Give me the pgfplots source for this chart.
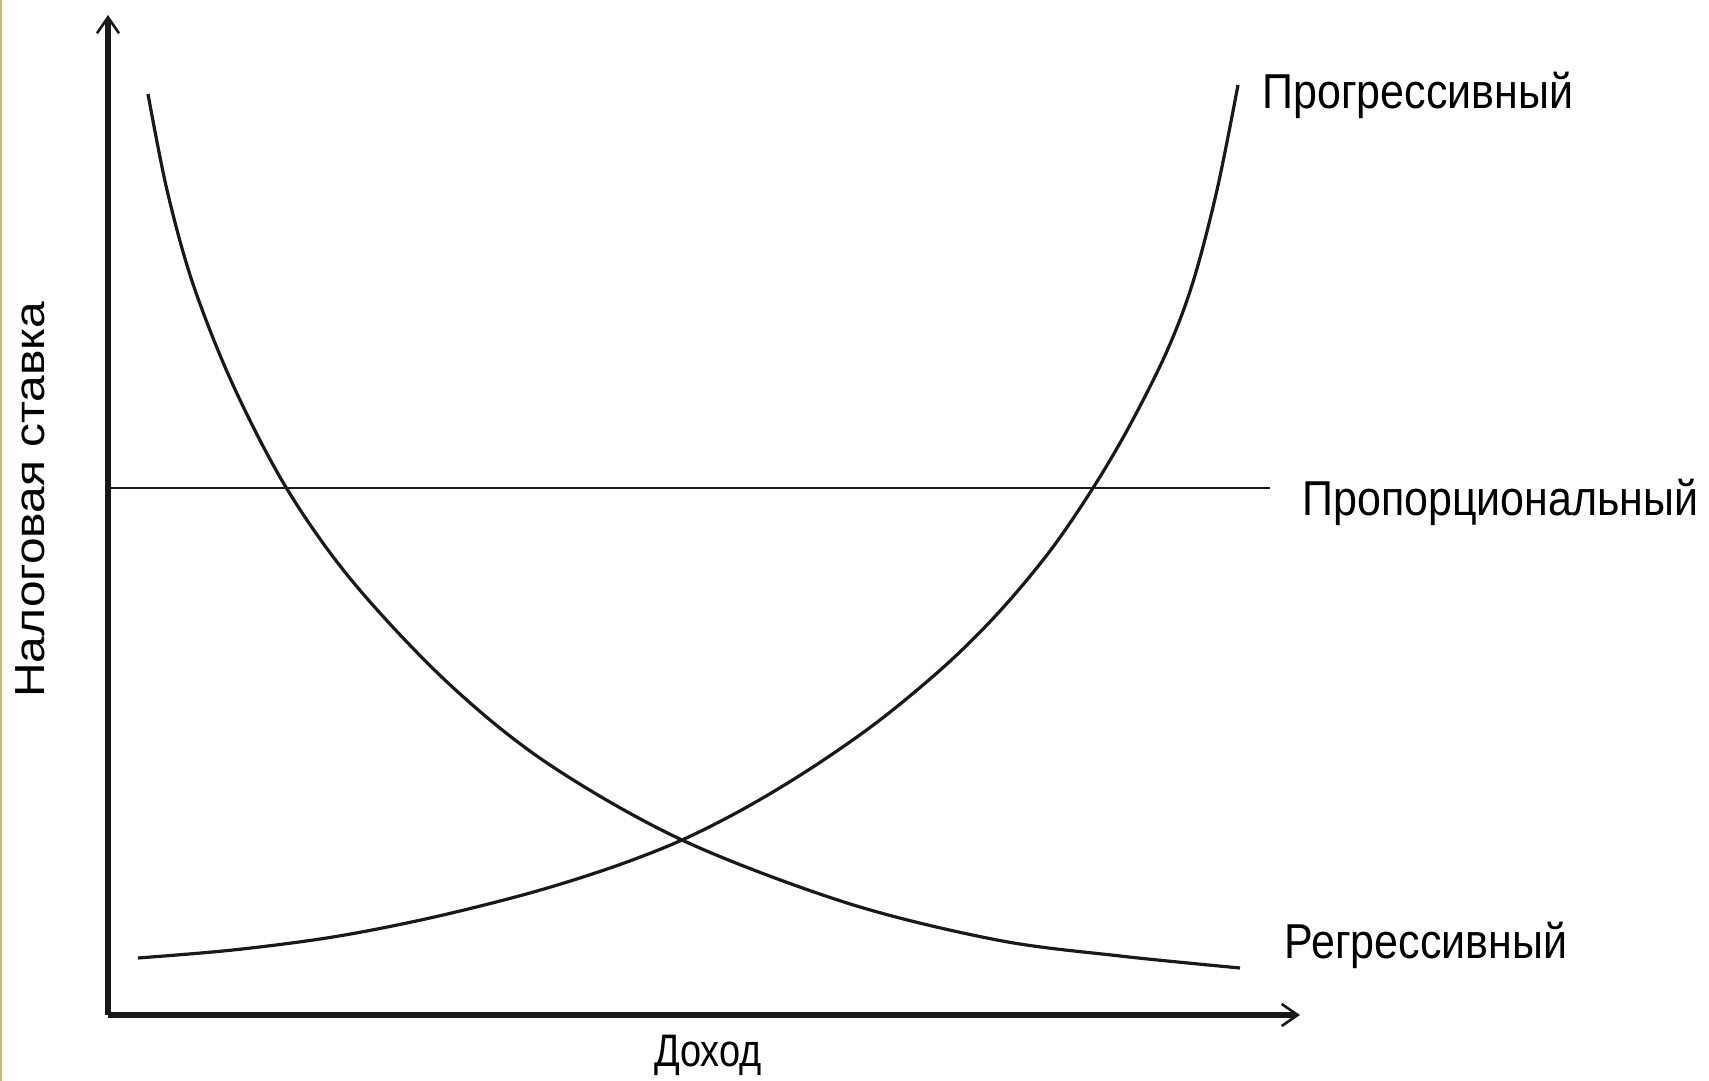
\documentclass[border=0pt]{standalone}
\usepackage{fontspec}
\setmainfont{Liberation Sans}
\usepackage{graphicx}
\usepackage{pgfplots}
\pgfplotsset{compat=1.18}
\usetikzlibrary{arrows.meta}
\begin{document}
\begin{tikzpicture}
\useasboundingbox (0,0) rectangle (854.5pt,540.5pt);
\fill[white] (0,0) rectangle (854.5pt,540.5pt);
\draw[color={rgb,255:red,205;green,185;blue,125}, line width=1pt] (0.5pt,0) -- (0.5pt,540.5pt);
\begin{axis}[
  at={(54pt,33pt)}, anchor=south west,
  scale only axis, width=596pt, height=500pt,
  xmin=108, xmax=1300, ymin=66, ymax=1066,
  axis lines=left,
  xtick=\empty, ytick=\empty,
  clip=false,
  axis line style={line width=2.7pt, color=black!90, -{Straight Barb[length=8pt,width=11pt,line width=1.3pt]}},
]
% Regressive
\addplot[black!90, line width=1.6pt, smooth, tension=0.55] coordinates {
(148,987) (167,891) (193,797) (233,696) (287,592) (353,499) (447,399)
(547,318) (682,241) (847,178) (997,141) (1120,125) (1240,113)
};
% Progressive
\addplot[black!90, line width=1.6pt, smooth, tension=0.55] coordinates {
(138,123) (233,131) (333,144) (430,163) (530,188) (613,214) (682,241)
(747,274) (813,314) (880,361) (947,417) (1000,470) (1050,530) (1093,593)
(1130,656) (1167,730) (1193,799) (1217,891) (1238,996)
};
% Proportional
\addplot[black!90, line width=1.1pt] coordinates {(108,593) (1270,593)};

\node[anchor=base west, inner sep=0, font=\fontsize{21.5}{26}\selectfont] at (axis cs:1262,972) {\scalebox{1}[1.14]{Прогрессивный}};
\node[anchor=base west, inner sep=0, font=\fontsize{21.5}{26}\selectfont] at (axis cs:1302,565) {\scalebox{1}[1.14]{Пропорциональный}};
\node[anchor=base west, inner sep=0, font=\fontsize{21.5}{26}\selectfont] at (axis cs:1284,122) {\scalebox{1}[1.14]{Регрессивный}};
\node[anchor=base, inner sep=0, font=\fontsize{19}{23}\selectfont] at (axis cs:708,14) {\scalebox{1}[1.2]{Доход}};
\node[rotate=90, anchor=base west, inner sep=0, font=\fontsize{21}{25}\selectfont] at (axis cs:45,383) {\scalebox{1.14}[1]{Налоговая ставка}};
\end{axis}
\end{tikzpicture}
\end{document}
